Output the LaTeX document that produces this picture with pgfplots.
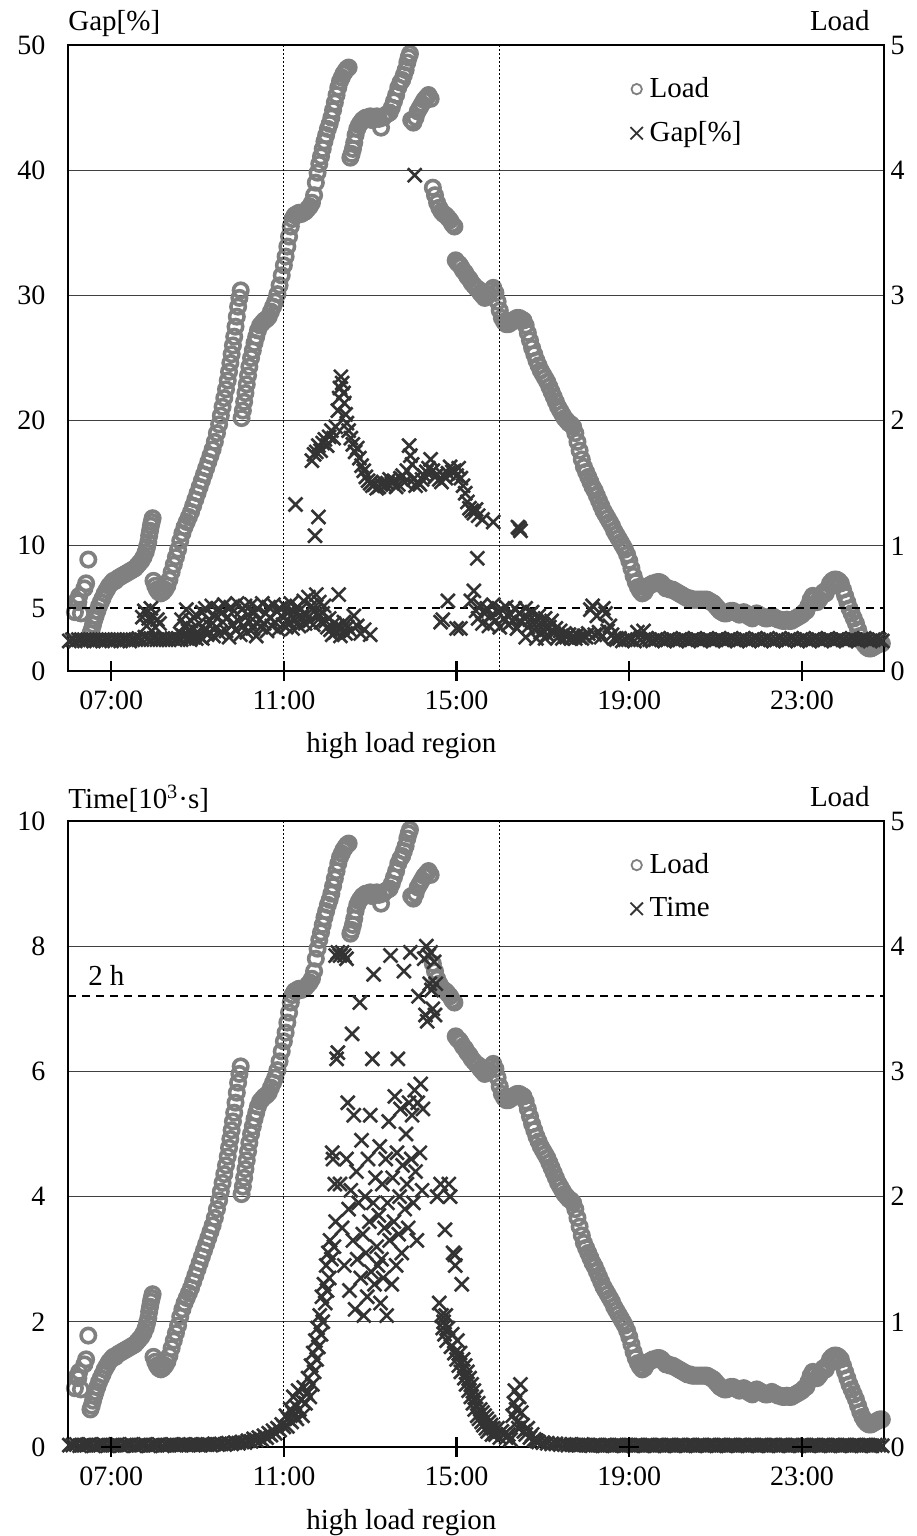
\documentclass[border=0pt]{standalone}
\usepackage{fontspec}
\setmainfont{Liberation Serif}
\usepackage{pgfplots}
\usepackage{pgfplotstable}
\pgfplotsset{compat=1.18}

\definecolor{loadgray}{RGB}{128,128,128}
\definecolor{xdark}{RGB}{51,51,51}

% load (right axis), same series in both panels
\pgfplotstableread[row sep=\\]{h v\\
6.16 0.47\\6.20 0.56\\6.24 0.55\\6.26 0.60\\6.30 0.46\\6.38 0.66\\6.42 0.70\\6.47 0.89\\
6.52 0.30\\6.55 0.33\\6.58 0.37\\6.61 0.41\\6.64 0.44\\6.68 0.48\\6.72 0.52\\6.76 0.55\\6.80 0.58\\6.85 0.62\\
6.90 0.65\\6.95 0.68\\7.00 0.70\\7.05 0.72\\7.10 0.72\\7.15 0.74\\7.20 0.75\\7.25 0.76\\7.30 0.77\\7.35 0.78\\
7.40 0.79\\7.45 0.80\\7.50 0.81\\7.55 0.82\\7.60 0.84\\7.65 0.86\\7.70 0.88\\7.75 0.91\\7.80 0.95\\7.83 0.99\\
7.86 1.03\\7.88 1.08\\7.90 1.12\\7.92 1.16\\7.94 1.19\\7.96 1.22\\7.98 0.72\\8.02 0.68\\8.06 0.65\\8.10 0.63\\
8.15 0.62\\8.20 0.63\\8.25 0.65\\8.30 0.68\\8.35 0.73\\8.40 0.79\\8.45 0.85\\8.50 0.91\\8.55 0.97\\8.60 1.04\\
8.65 1.10\\8.70 1.15\\8.75 1.19\\8.80 1.23\\8.85 1.27\\8.90 1.32\\8.95 1.37\\9.00 1.42\\9.05 1.47\\9.10 1.52\\
9.15 1.57\\9.20 1.62\\9.25 1.67\\9.30 1.72\\9.35 1.77\\9.40 1.83\\9.45 1.90\\9.50 1.97\\9.54 2.04\\9.58 2.11\\
9.62 2.18\\9.66 2.25\\9.70 2.32\\9.73 2.39\\9.76 2.46\\9.79 2.53\\9.82 2.60\\9.85 2.67\\9.88 2.75\\9.91 2.83\\
9.94 2.91\\9.97 2.98\\10.00 3.04\\10.02 2.02\\10.05 2.08\\10.08 2.15\\10.11 2.22\\10.14 2.29\\10.17 2.36\\
10.20 2.43\\10.24 2.50\\10.28 2.56\\10.32 2.62\\10.36 2.67\\10.40 2.72\\10.45 2.76\\10.50 2.78\\10.55 2.80\\
10.60 2.81\\10.65 2.83\\10.70 2.87\\10.75 2.91\\10.80 2.95\\10.85 3.01\\10.90 3.08\\10.95 3.16\\11.00 3.24\\
11.04 3.31\\11.08 3.39\\11.12 3.47\\11.16 3.55\\11.20 3.61\\11.25 3.64\\11.30 3.65\\11.35 3.66\\11.40 3.65\\
11.45 3.66\\11.50 3.67\\11.55 3.69\\11.60 3.71\\11.65 3.74\\11.70 3.80\\11.74 3.90\\11.78 3.98\\11.82 4.05\\
11.86 4.11\\11.90 4.17\\11.94 4.23\\11.98 4.28\\12.02 4.33\\12.06 4.37\\12.10 4.42\\12.14 4.48\\12.18 4.54\\
12.22 4.60\\12.26 4.66\\12.30 4.71\\12.34 4.74\\12.38 4.77\\12.42 4.79\\12.46 4.81\\12.50 4.82\\
12.54 4.10\\12.57 4.13\\12.60 4.17\\12.63 4.22\\12.66 4.28\\12.70 4.33\\12.74 4.36\\12.78 4.38\\12.82 4.40\\
12.86 4.41\\12.90 4.42\\12.95 4.42\\13.00 4.43\\13.05 4.40\\13.10 4.42\\13.15 4.43\\13.20 4.41\\13.25 4.34\\
13.30 4.42\\13.35 4.44\\13.40 4.45\\13.45 4.46\\13.50 4.50\\13.55 4.55\\13.60 4.60\\13.65 4.66\\13.70 4.70\\
13.74 4.72\\13.78 4.76\\13.82 4.80\\13.86 4.86\\13.89 4.90\\13.92 4.93\\
13.95 4.40\\14.00 4.38\\14.05 4.42\\14.10 4.47\\14.15 4.50\\14.20 4.53\\14.25 4.56\\14.30 4.58\\14.35 4.60\\14.40 4.57\\
14.45 3.86\\14.50 3.80\\14.55 3.74\\14.60 3.70\\14.65 3.67\\14.70 3.65\\14.75 3.64\\14.80 3.62\\14.85 3.60\\
14.90 3.57\\14.95 3.55\\14.98 3.28\\15.02 3.26\\15.06 3.25\\15.10 3.23\\15.15 3.20\\15.20 3.18\\15.25 3.15\\
15.30 3.13\\15.35 3.10\\15.40 3.08\\15.45 3.06\\15.50 3.05\\15.55 3.02\\15.60 3.00\\15.65 2.98\\15.70 2.99\\
15.75 3.01\\15.80 3.04\\15.85 3.06\\15.90 3.02\\15.95 2.95\\16.00 2.88\\16.05 2.82\\16.10 2.79\\16.15 2.77\\
16.20 2.77\\16.25 2.78\\16.30 2.80\\16.35 2.81\\16.40 2.82\\16.45 2.82\\16.50 2.81\\16.55 2.80\\16.60 2.76\\
16.65 2.70\\16.70 2.64\\16.75 2.58\\16.80 2.53\\16.85 2.48\\16.90 2.44\\16.95 2.40\\17.00 2.37\\17.05 2.34\\
17.10 2.31\\17.15 2.27\\17.20 2.23\\17.25 2.19\\17.30 2.15\\17.35 2.11\\17.40 2.08\\17.45 2.05\\17.50 2.02\\
17.55 2.00\\17.60 1.98\\17.65 1.97\\17.70 1.95\\17.75 1.90\\17.80 1.83\\17.85 1.76\\17.90 1.69\\17.95 1.63\\
18.00 1.59\\18.05 1.55\\18.10 1.51\\18.15 1.47\\18.20 1.44\\18.25 1.40\\18.30 1.36\\18.35 1.32\\18.40 1.28\\
18.45 1.25\\18.50 1.22\\18.55 1.19\\18.60 1.16\\18.65 1.12\\18.70 1.09\\18.75 1.06\\18.80 1.03\\18.85 1.00\\
18.90 0.97\\18.95 0.93\\19.00 0.88\\19.05 0.82\\19.10 0.76\\19.15 0.71\\19.20 0.67\\19.25 0.64\\19.30 0.62\\
19.35 0.63\\19.40 0.66\\19.45 0.68\\19.50 0.69\\19.55 0.70\\19.60 0.70\\19.65 0.71\\19.70 0.71\\19.75 0.70\\
19.80 0.68\\19.85 0.66\\19.90 0.66\\19.95 0.65\\20.00 0.65\\20.05 0.64\\20.10 0.63\\20.15 0.62\\20.20 0.61\\
20.25 0.60\\20.30 0.59\\20.35 0.58\\20.40 0.58\\20.45 0.57\\20.50 0.57\\20.55 0.57\\20.60 0.57\\20.65 0.57\\
20.70 0.57\\20.75 0.57\\20.80 0.57\\20.85 0.56\\20.90 0.55\\20.95 0.54\\21.00 0.52\\21.05 0.50\\21.10 0.48\\
21.15 0.47\\21.20 0.46\\21.25 0.46\\21.30 0.47\\21.35 0.48\\21.40 0.48\\21.45 0.47\\21.50 0.46\\21.55 0.45\\
21.60 0.46\\21.65 0.47\\21.70 0.46\\21.75 0.44\\21.80 0.43\\21.85 0.42\\21.90 0.45\\21.95 0.46\\22.00 0.45\\
22.05 0.44\\22.10 0.43\\22.15 0.42\\22.20 0.42\\22.25 0.43\\22.30 0.44\\22.35 0.43\\22.40 0.42\\22.45 0.41\\
22.50 0.41\\22.55 0.40\\22.60 0.40\\22.65 0.41\\22.70 0.40\\22.75 0.40\\22.80 0.41\\22.85 0.42\\22.90 0.43\\
22.95 0.44\\23.00 0.45\\23.05 0.47\\23.10 0.48\\23.15 0.52\\23.20 0.57\\23.25 0.60\\23.30 0.58\\23.35 0.55\\
23.40 0.57\\23.45 0.60\\23.50 0.63\\23.55 0.62\\23.60 0.66\\23.65 0.70\\23.70 0.72\\23.75 0.73\\23.80 0.73\\
23.85 0.72\\23.90 0.70\\23.95 0.65\\24.00 0.60\\24.05 0.55\\24.10 0.50\\24.15 0.46\\24.20 0.42\\24.25 0.38\\
24.30 0.33\\24.35 0.28\\24.40 0.24\\24.45 0.21\\24.50 0.19\\24.55 0.18\\24.60 0.18\\24.65 0.19\\24.70 0.20\\
24.75 0.21\\24.80 0.22\\24.85 0.22\\
}\loaddata

% optimality gap [%]
\pgfplotstableread[row sep=\\]{h v\\
6.03 2.4\\6.10 2.5\\6.17 2.4\\6.24 2.5\\6.31 2.5\\6.38 2.4\\6.45 2.5\\6.52 2.5\\6.59 2.4\\6.66 2.5\\6.73 2.5\\
6.80 2.4\\6.87 2.5\\6.94 2.5\\7.01 2.4\\7.08 2.5\\7.15 2.5\\7.22 2.4\\7.29 2.5\\7.36 2.5\\7.43 2.4\\7.50 2.5\\
7.57 2.5\\7.64 2.6\\7.71 2.5\\7.78 2.7\\7.85 2.6\\7.92 2.5\\7.99 2.6\\8.06 2.5\\8.13 2.5\\8.20 2.6\\8.27 2.5\\
8.34 2.5\\8.41 2.6\\8.48 2.5\\8.55 2.6\\8.62 2.5\\8.69 2.7\\8.76 2.6\\8.83 2.5\\8.90 2.7\\8.97 2.6\\9.04 2.8\\9.11 2.6\\
7.72 4.3\\7.77 4.8\\7.82 3.6\\7.87 4.2\\7.92 5.0\\7.97 4.4\\8.02 3.5\\8.07 4.1\\8.12 3.8\\8.63 4.1\\8.74 4.9\\
8.60 3.0\\8.67 2.8\\8.70 3.6\\8.78 3.2\\8.82 2.7\\8.85 4.0\\8.89 3.4\\8.93 2.9\\8.96 4.5\\9.00 3.1\\
9.04 3.8\\9.07 2.7\\9.11 4.7\\9.15 3.3\\9.18 5.0\\9.22 2.9\\9.26 4.1\\9.29 3.6\\9.33 5.2\\9.37 2.8\\
9.40 4.4\\9.44 3.5\\9.48 5.0\\9.51 3.0\\9.55 4.6\\9.59 3.9\\9.62 5.3\\9.66 3.2\\9.70 4.3\\9.73 2.7\\
9.77 5.1\\9.81 3.7\\9.84 4.8\\9.88 3.3\\9.92 5.4\\9.95 4.0\\9.99 2.9\\10.03 4.9\\10.06 3.6\\10.10 5.2\\
10.14 3.1\\10.17 4.5\\10.21 3.9\\10.25 5.3\\10.28 3.4\\10.32 4.7\\10.36 2.8\\10.39 5.0\\10.43 4.1\\10.47 3.5\\
10.50 5.4\\10.54 3.8\\10.58 4.6\\10.61 3.2\\10.65 5.1\\10.69 4.2\\10.72 3.6\\10.76 5.3\\10.80 3.9\\10.83 4.8\\
10.87 3.3\\10.91 5.0\\10.94 4.4\\10.98 3.7\\11.02 5.2\\11.05 3.5\\11.09 4.6\\11.13 3.9\\11.16 5.4\\11.20 3.4\\
11.24 4.7\\11.27 4.1\\11.31 5.1\\11.35 3.6\\11.38 4.9\\11.42 4.3\\11.46 5.6\\11.49 3.8\\11.53 4.5\\11.57 5.9\\
11.60 4.0\\11.64 5.2\\11.68 3.7\\11.71 4.8\\11.75 6.1\\11.79 4.4\\11.82 5.5\\11.86 3.9\\11.90 4.6\\11.93 5.2\\
11.97 4.0\\12.01 3.5\\12.05 4.2\\12.08 3.3\\12.12 2.9\\12.16 3.8\\12.20 3.1\\12.24 3.6\\12.27 6.1\\12.31 2.8\\
12.35 3.4\\12.39 3.9\\12.43 3.0\\12.47 3.5\\12.55 3.2\\12.62 4.4\\12.70 3.6\\12.78 3.0\\12.86 3.3\\13.00 2.9\\
11.27 13.3\\11.72 10.8\\11.80 12.3\\11.65 16.8\\11.70 17.3\\11.75 17.5\\11.80 18.0\\11.85 17.6\\11.90 18.2\\
11.95 18.5\\12.00 18.0\\12.05 18.7\\12.10 19.2\\12.15 18.6\\12.20 19.5\\12.25 20.8\\12.28 21.8\\12.30 22.6\\
12.32 23.5\\12.35 23.0\\12.38 22.2\\12.40 21.4\\12.43 20.5\\12.46 19.8\\12.50 19.2\\12.55 18.6\\12.60 18.1\\
12.65 17.5\\12.70 17.8\\12.75 17.0\\12.80 16.4\\12.85 16.0\\12.90 15.5\\12.95 15.2\\13.00 15.0\\13.05 14.8\\
13.10 14.9\\13.15 14.6\\13.20 14.7\\13.25 14.9\\13.30 15.1\\13.35 14.8\\13.40 15.0\\13.45 15.3\\13.50 15.0\\
13.55 15.2\\13.60 14.7\\13.65 14.9\\13.70 15.4\\13.75 15.6\\13.80 15.1\\13.85 16.0\\13.90 18.0\\13.93 17.2\\
13.97 16.5\\14.00 15.3\\14.05 14.8\\14.10 15.1\\14.15 14.9\\14.20 15.3\\14.25 15.6\\14.30 15.9\\14.35 16.2\\
14.40 16.9\\14.45 16.0\\14.50 15.5\\14.55 15.7\\14.60 15.3\\14.65 15.1\\14.70 15.6\\14.75 15.4\\14.80 15.8\\
14.85 16.3\\14.90 15.9\\14.95 16.0\\15.00 15.6\\15.05 16.2\\15.10 15.4\\15.15 14.8\\15.20 14.2\\15.25 13.5\\
15.30 13.0\\15.35 12.8\\15.40 12.6\\15.45 12.9\\15.50 12.4\\15.60 12.1\\15.85 11.9\\16.42 11.5\\16.48 11.2\\
16.45 11.4\\14.03 39.6\\15.48 9.0\\
14.63 3.9\\14.68 4.1\\14.80 5.6\\15.00 3.4\\15.09 3.4\\15.33 5.6\\15.40 6.4\\
15.45 4.8\\15.50 4.2\\15.55 5.2\\15.60 3.8\\15.65 4.6\\15.70 5.0\\15.75 3.6\\15.80 4.4\\15.85 5.3\\15.90 4.0\\
15.95 4.7\\16.00 3.5\\16.05 4.9\\16.10 4.2\\16.15 5.1\\16.20 3.7\\16.25 4.5\\16.30 4.0\\16.35 5.0\\16.40 3.4\\
16.45 4.6\\16.50 3.9\\16.55 4.3\\16.60 5.0\\16.65 3.5\\16.70 4.1\\16.75 4.7\\16.80 3.3\\16.85 3.9\\16.90 4.4\\
16.95 3.1\\17.00 3.7\\17.05 4.2\\17.10 2.9\\17.15 3.5\\17.20 4.0\\17.25 3.0\\17.30 3.4\\17.35 2.7\\17.40 3.2\\
17.45 2.6\\17.50 3.0\\17.55 2.7\\17.60 2.9\\17.65 2.6\\17.70 2.8\\17.75 2.6\\17.80 2.9\\17.85 2.7\\17.90 2.6\\
17.95 2.8\\18.00 2.7\\18.05 3.0\\18.10 4.9\\18.15 5.2\\18.20 2.9\\18.25 4.4\\18.30 3.1\\18.35 2.7\\18.40 5.0\\
18.45 4.6\\18.50 3.2\\18.55 3.6\\18.60 2.9\\18.65 2.6\\16.60 2.7\\16.85 2.6\\17.05 2.6\\
18.70 2.5\\18.77 2.6\\18.84 2.4\\18.91 2.5\\18.98 2.6\\19.05 2.5\\19.12 2.4\\19.19 3.1\\19.26 2.5\\19.33 3.2\\
19.40 2.6\\19.47 2.5\\19.54 2.4\\19.61 2.5\\19.68 2.6\\19.75 2.5\\19.82 2.4\\19.89 2.5\\19.96 2.6\\20.03 2.5\\
20.10 2.4\\20.17 2.5\\20.24 2.6\\20.31 2.5\\20.38 2.4\\20.45 2.5\\20.52 2.6\\20.59 2.5\\20.66 2.4\\20.73 2.5\\
20.80 2.6\\20.87 2.5\\20.94 2.4\\21.01 2.5\\21.08 2.6\\21.15 2.5\\21.22 2.4\\21.29 2.5\\21.36 2.6\\21.43 2.5\\
21.50 2.4\\21.57 2.5\\21.64 2.6\\21.71 2.5\\21.78 2.4\\21.85 2.5\\21.92 2.6\\21.99 2.5\\22.06 2.4\\22.13 2.5\\
22.20 2.6\\22.27 2.5\\22.34 2.4\\22.41 2.5\\22.48 2.6\\22.55 2.5\\22.62 2.4\\22.69 2.5\\22.76 2.6\\22.83 2.5\\
22.90 2.4\\22.97 2.5\\23.04 2.6\\23.11 2.5\\23.18 2.4\\23.25 2.5\\23.32 2.6\\23.39 2.5\\23.46 2.4\\23.53 2.5\\
23.60 2.6\\23.67 2.5\\23.74 2.4\\23.81 2.5\\23.88 2.6\\23.95 2.5\\24.02 2.4\\24.09 2.5\\24.16 2.6\\24.23 2.5\\
24.30 2.4\\24.37 2.5\\24.44 2.6\\24.51 2.5\\24.58 2.4\\24.65 2.5\\24.72 2.6\\24.79 2.5\\24.86 2.4\\
}\gapdata

% computation time [10^3 s]
\pgfplotstableread[row sep=\\]{h v\\
6.03 0.03\\6.11 0.03\\6.19 0.04\\6.27 0.02\\6.35 0.03\\6.43 0.03\\6.51 0.04\\6.59 0.02\\6.67 0.03\\6.75 0.03\\
6.83 0.04\\6.91 0.02\\6.99 0.03\\7.07 0.03\\7.15 0.04\\7.23 0.02\\7.31 0.03\\7.39 0.03\\7.47 0.04\\7.55 0.02\\
7.63 0.03\\7.71 0.03\\7.79 0.04\\7.87 0.02\\7.95 0.03\\8.03 0.03\\8.11 0.04\\8.19 0.02\\8.27 0.03\\8.35 0.03\\
8.43 0.04\\8.51 0.03\\8.59 0.03\\8.67 0.04\\8.75 0.03\\8.83 0.04\\8.91 0.03\\8.99 0.04\\9.07 0.03\\9.15 0.04\\
9.23 0.04\\9.31 0.03\\9.39 0.05\\9.47 0.04\\9.55 0.05\\9.63 0.04\\9.71 0.06\\9.79 0.05\\9.87 0.07\\9.95 0.06\\
10.03 0.08\\10.10 0.07\\10.17 0.10\\10.24 0.09\\10.30 0.13\\10.36 0.11\\10.42 0.15\\10.48 0.12\\10.54 0.18\\
10.60 0.15\\10.65 0.22\\10.70 0.19\\10.75 0.26\\10.80 0.22\\10.85 0.30\\10.90 0.27\\10.95 0.36\\11.00 0.32\\
11.05 0.50\\11.08 0.33\\11.10 0.45\\11.15 0.60\\11.18 0.40\\11.20 0.55\\11.22 0.80\\11.25 0.50\\11.28 0.65\\
11.30 0.45\\11.33 0.90\\11.36 0.60\\11.40 0.75\\11.43 0.50\\11.46 0.95\\11.50 0.70\\11.53 0.85\\11.56 1.10\\
11.60 0.80\\11.63 1.30\\11.66 1.00\\11.68 1.50\\11.70 1.20\\11.73 1.70\\11.76 1.40\\11.78 1.90\\11.80 1.60\\
11.83 2.10\\11.86 1.80\\11.88 2.40\\11.90 2.00\\11.93 2.60\\11.96 2.30\\11.98 2.90\\12.00 2.50\\12.03 3.10\\
12.05 2.70\\12.07 3.30\\12.10 3.00\\12.12 4.70\\12.14 4.60\\12.16 3.20\\12.18 4.20\\12.20 3.60\\
12.22 6.20\\12.25 6.30\\12.20 7.85\\12.25 7.90\\12.30 7.85\\12.35 7.90\\12.40 7.85\\12.45 7.80\\
12.30 4.20\\12.35 3.50\\12.40 2.90\\12.45 4.60\\12.48 5.50\\12.50 3.80\\12.52 2.50\\12.55 4.10\\12.58 6.60\\
12.60 3.30\\12.62 5.30\\12.65 2.20\\12.68 4.40\\12.70 3.00\\12.73 3.90\\12.76 7.10\\12.78 2.70\\12.80 4.90\\
12.83 3.40\\12.85 2.10\\12.88 4.00\\12.90 3.10\\12.93 2.40\\12.95 4.60\\12.98 3.60\\13.00 5.30\\13.02 2.80\\
13.05 6.20\\13.07 3.90\\13.08 7.55\\13.10 2.60\\13.12 4.30\\13.15 3.20\\13.18 2.90\\13.20 3.70\\13.22 4.80\\
13.24 2.30\\13.26 3.00\\13.28 4.20\\13.30 2.70\\13.33 3.50\\13.36 4.60\\13.38 2.10\\13.40 3.90\\13.43 5.20\\
13.45 3.30\\13.47 7.85\\13.50 2.60\\13.52 4.30\\13.55 3.60\\13.57 5.60\\13.60 2.90\\13.62 4.70\\13.64 6.20\\
13.66 3.40\\13.68 4.00\\13.70 5.40\\13.73 3.10\\13.75 4.50\\13.78 7.60\\13.80 3.80\\13.83 5.00\\13.85 4.20\\
13.88 3.50\\13.90 5.50\\13.93 7.90\\13.95 4.60\\13.97 5.30\\14.00 3.90\\14.03 5.70\\14.05 4.40\\14.08 3.30\\
14.10 5.50\\14.12 7.20\\14.15 4.70\\14.17 5.80\\14.20 4.10\\14.22 5.40\\14.25 7.80\\14.28 6.90\\14.30 8.00\\
14.32 6.80\\14.35 7.85\\14.38 7.40\\14.40 7.90\\14.42 7.30\\14.45 7.00\\14.48 7.75\\14.50 6.90\\14.52 7.40\\
14.55 4.00\\14.60 2.30\\14.63 4.20\\14.65 2.10\\14.68 1.90\\14.70 2.00\\14.72 1.80\\14.73 3.47\\14.75 2.10\\
14.77 1.70\\14.80 1.90\\14.82 4.20\\14.85 4.00\\14.87 1.60\\14.90 1.80\\14.92 3.10\\14.95 1.50\\14.96 3.07\\
14.97 2.90\\15.00 1.40\\15.02 1.70\\15.05 1.30\\15.08 1.50\\15.10 1.20\\15.12 2.60\\15.15 1.40\\15.18 1.10\\
15.20 1.30\\15.22 1.00\\15.25 1.20\\15.28 0.90\\15.30 1.10\\15.33 0.80\\15.35 1.00\\15.38 0.70\\15.40 0.90\\
15.42 0.60\\15.45 0.80\\15.48 0.50\\15.50 0.70\\15.52 0.45\\15.55 0.60\\15.58 0.40\\15.60 0.55\\15.62 0.35\\
15.65 0.50\\15.68 0.30\\15.70 0.45\\15.72 0.25\\15.75 0.40\\15.78 0.30\\15.80 0.35\\15.82 0.20\\15.85 0.30\\
15.88 0.25\\15.90 0.20\\15.95 0.30\\16.00 0.15\\16.05 0.25\\16.10 0.20\\16.15 0.15\\16.20 0.20\\16.25 0.12\\
16.30 0.50\\16.33 0.70\\16.35 0.90\\16.38 0.60\\16.40 0.40\\16.43 0.30\\16.45 0.80\\16.48 1.00\\16.50 0.55\\
16.53 0.35\\16.56 0.25\\16.60 0.20\\16.65 0.30\\16.70 0.15\\16.75 0.20\\16.80 0.12\\16.85 0.10\\16.90 0.08\\
17.00 0.07\\17.10 0.06\\17.20 0.05\\17.30 0.05\\17.40 0.04\\17.50 0.04\\17.58 0.03\\17.66 0.04\\17.74 0.03\\
17.82 0.03\\17.90 0.04\\17.98 0.03\\18.06 0.03\\18.14 0.02\\18.22 0.03\\18.30 0.03\\18.38 0.02\\18.46 0.03\\
18.54 0.03\\18.62 0.02\\18.70 0.03\\18.78 0.03\\18.86 0.02\\18.94 0.03\\19.02 0.03\\19.10 0.02\\19.18 0.03\\
19.26 0.03\\19.34 0.02\\19.42 0.03\\19.50 0.03\\19.58 0.02\\19.66 0.03\\19.74 0.03\\19.82 0.02\\19.90 0.03\\
19.98 0.03\\20.06 0.02\\20.14 0.03\\20.22 0.03\\20.30 0.02\\20.38 0.03\\20.46 0.03\\20.54 0.02\\20.62 0.03\\
20.70 0.03\\20.78 0.02\\20.86 0.03\\20.94 0.03\\21.02 0.02\\21.10 0.03\\21.18 0.03\\21.26 0.02\\21.34 0.03\\
21.42 0.03\\21.50 0.02\\21.58 0.03\\21.66 0.03\\21.74 0.02\\21.82 0.03\\21.90 0.03\\21.98 0.02\\22.06 0.03\\
22.14 0.03\\22.22 0.02\\22.30 0.03\\22.38 0.03\\22.46 0.02\\22.54 0.03\\22.62 0.03\\22.70 0.02\\22.78 0.03\\
22.86 0.03\\22.94 0.02\\23.02 0.03\\23.10 0.03\\23.18 0.02\\23.26 0.03\\23.34 0.03\\23.42 0.02\\23.50 0.03\\
23.58 0.03\\23.66 0.02\\23.74 0.03\\23.82 0.03\\23.90 0.02\\23.98 0.03\\24.06 0.03\\24.14 0.02\\24.22 0.03\\
24.30 0.03\\24.38 0.02\\24.46 0.03\\24.54 0.03\\24.62 0.02\\24.70 0.03\\24.78 0.03\\24.86 0.02\\
}\timedata

\newcommand{\bigtext}{\fontsize{14.5}{17}\selectfont}

\pgfplotsset{
  panel/.style={scale only axis, width=408pt, height=313pt, xmin=6, xmax=24.9,
    tick style={draw=none}, axis line style={line width=0.6pt},
    font=\fontsize{14}{17}\selectfont,
    /pgf/number format/assume math mode=true},
  loadaxis/.style={panel, ymin=0, ymax=5, ytick={0,1,2,3,4,5}, yticklabel pos=right,
    yticklabel style={xshift=-0.2pt},
    xtick=\empty, ymajorgrids, grid style={black!75, line width=0.5pt}},
  loadmarks/.style={only marks, mark=o, loadgray, mark size=3.6pt,
    mark options={line width=1.8pt}},
  xmarks/.style={only marks, mark=x, xdark, mark size=4.9pt,
    mark options={line width=1.3pt}},
  leftaxis/.style={panel, yticklabel pos=left, yticklabel style={xshift=-7.8pt},
    xtick={7,11,15,19,23}, xticklabels={07:00,11:00,15:00,19:00,23:00},
    xticklabel style={yshift=-6.4pt},
    legend style={at={(0.682,0.955)}, anchor=north west, draw=none, fill=none,
      inner sep=0pt, row sep=6.5pt, font=\bigtext,
      cells={anchor=west}},
    legend image code/.code={\path (0,0) (0.35cm,0);
      \draw[##1] plot coordinates {(0.2cm,0cm)};}},
  overlay/.style={panel, hide axis, clip=false, ymin=0, ymax=1},
  plusticks/.style={only marks, mark=+, black, mark size=4.9pt,
    mark options={line width=1.1pt}},
}

\begin{document}
\begin{tikzpicture}
% frame of the whole figure (916 x 1536 px at 0.5 pt per px)
\useasboundingbox (-34pt,-44.5pt) rectangle (424pt,723.5pt);
% ---------------- top panel: gap ----------------
\begin{axis}[loadaxis, at={(0,388pt)}, anchor=south west]
\addplot[loadmarks] table[x=h, y=v] {\loaddata};
\end{axis}
\begin{axis}[leftaxis, at={(0,388pt)}, anchor=south west,
  ymin=0, ymax=50, ytick={0,5,10,20,30,40,50}]
\addlegendimage{only marks, mark=o, loadgray, mark size=2.6pt, mark options={line width=0.9pt}}
\addlegendentry{Load}
\addlegendimage{only marks, mark=x, xdark, mark size=4.4pt, mark options={line width=0.9pt}}
\addlegendentry{Gap[\%]}
\addplot[xmarks, forget plot] table[x=h, y=v] {\gapdata};
\addplot[black, line width=0.4pt, dash pattern=on 1pt off 1pt, forget plot] coordinates {(11,0) (11,50)};
\addplot[black, line width=0.4pt, dash pattern=on 1pt off 1pt, forget plot] coordinates {(16,0) (16,50)};
\addplot[black, line width=0.9pt, dash pattern=on 4pt off 3pt, forget plot] coordinates {(6,5) (24.9,5)};
\end{axis}
\begin{axis}[overlay, at={(0,388pt)}, anchor=south west]
\addplot[plusticks] coordinates {(7,0) (11,0) (15,0) (19,0) (23,0)};
\node[anchor=south west, inner sep=0pt, yshift=4pt, font=\bigtext] at (rel axis cs:0,1) {Gap[\%]};
\node[anchor=base east, inner sep=0pt, xshift=-7pt, yshift=7pt, font=\bigtext] at (rel axis cs:1,1) {Load};
\node[anchor=base, inner sep=0pt, yshift=-41pt, font=\bigtext] at (axis cs:13.72,0) {high load region};
\end{axis}

% ---------------- bottom panel: time ----------------
\begin{axis}[loadaxis, at={(0,0)}, anchor=south west]
\addplot[loadmarks] table[x=h, y=v] {\loaddata};
\end{axis}
\begin{axis}[leftaxis, at={(0,0)}, anchor=south west,
  ymin=0, ymax=10, ytick={0,2,4,6,8,10}]
\addlegendimage{only marks, mark=o, loadgray, mark size=2.6pt, mark options={line width=0.9pt}}
\addlegendentry{Load}
\addlegendimage{only marks, mark=x, xdark, mark size=4.4pt, mark options={line width=0.9pt}}
\addlegendentry{Time}
\addplot[xmarks, forget plot] table[x=h, y=v] {\timedata};
\addplot[black, line width=0.4pt, dash pattern=on 1pt off 1pt, forget plot] coordinates {(11,0) (11,10)};
\addplot[black, line width=0.4pt, dash pattern=on 1pt off 1pt, forget plot] coordinates {(16,0) (16,10)};
\addplot[black, line width=0.9pt, dash pattern=on 4pt off 3pt, forget plot] coordinates {(6,7.2) (24.9,7.2)};
\node[anchor=south west, inner sep=0pt, yshift=5pt, font=\bigtext] at (axis cs:6.46,7.2) {2 h};
\end{axis}
\begin{axis}[overlay, at={(0,0)}, anchor=south west]
\addplot[plusticks] coordinates {(7,0) (11,0) (15,0) (19,0) (23,0)};
\node[anchor=south west, inner sep=0pt, yshift=4pt, font=\bigtext] at (rel axis cs:0,1) {Time[10\textsuperscript{3}·s]};
\node[anchor=base east, inner sep=0pt, xshift=-7pt, yshift=7pt, font=\bigtext] at (rel axis cs:1,1) {Load};
\node[anchor=base, inner sep=0pt, yshift=-41pt, font=\bigtext] at (axis cs:13.72,0) {high load region};
\end{axis}
\end{tikzpicture}
\end{document}
